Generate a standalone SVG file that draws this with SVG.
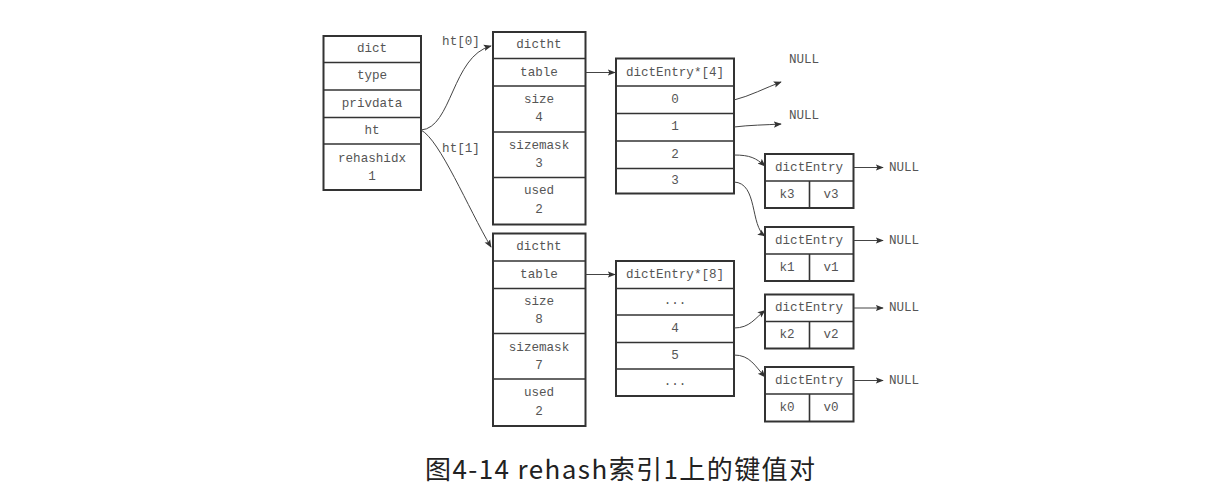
<svg xmlns="http://www.w3.org/2000/svg" width="1226" height="502" viewBox="0 0 1226 502">
<style>
.box{fill:#fff;stroke:#333;stroke-width:2}
.div{stroke:#333;stroke-width:1.6}
.t{font-family:"Liberation Mono",monospace;font-size:12.6px;fill:#555;text-anchor:middle;dominant-baseline:central}
.c{fill:none;stroke:#444;stroke-width:1}
.cap{font-family:"Noto Sans CJK SC",sans-serif;font-size:26px;fill:#222;text-anchor:middle;dominant-baseline:central}
</style>
<defs>
<marker id="ah" viewBox="0 0 10 10" refX="9" refY="5" markerWidth="8" markerHeight="8" markerUnits="userSpaceOnUse" orient="auto">
<path d="M0,1 L10,5 L0,9 L2,5 Z" fill="#333"/>
</marker>
</defs>
<rect width="1226" height="502" fill="#fff"/>

<g id="dict">
<rect class="box" x="323.5" y="36" width="97.5" height="154"/>
<line class="div" x1="323.5" y1="62.5" x2="421" y2="62.5"/>
<line class="div" x1="323.5" y1="90" x2="421" y2="90"/>
<line class="div" x1="323.5" y1="117.5" x2="421" y2="117.5"/>
<line class="div" x1="323.5" y1="144" x2="421" y2="144"/>
<text class="t" x="372" y="49">dict</text>
<text class="t" x="372" y="76">type</text>
<text class="t" x="372" y="103.5">privdata</text>
<text class="t" x="372" y="130.5">ht</text>
<text class="t" x="372" y="158.5">rehashidx</text>
<text class="t" x="372" y="177">1</text>
</g>

<g id="ht0">
<rect class="box" x="493" y="32" width="92.5" height="192.5"/>
<line class="div" x1="493" y1="58.5" x2="585.5" y2="58.5"/>
<line class="div" x1="493" y1="86" x2="585.5" y2="86"/>
<line class="div" x1="493" y1="132" x2="585.5" y2="132"/>
<line class="div" x1="493" y1="177.5" x2="585.5" y2="177.5"/>
<text class="t" x="539" y="45">dictht</text>
<text class="t" x="539" y="72.5">table</text>
<text class="t" x="539" y="100">size</text>
<text class="t" x="539" y="118">4</text>
<text class="t" x="539" y="145.5">sizemask</text>
<text class="t" x="539" y="164">3</text>
<text class="t" x="539" y="191">used</text>
<text class="t" x="539" y="210">2</text>
</g>

<g id="ht1">
<rect class="box" x="493" y="233.5" width="92.5" height="192.5"/>
<line class="div" x1="493" y1="261" x2="585.5" y2="261"/>
<line class="div" x1="493" y1="288.5" x2="585.5" y2="288.5"/>
<line class="div" x1="493" y1="333.5" x2="585.5" y2="333.5"/>
<line class="div" x1="493" y1="379" x2="585.5" y2="379"/>
<text class="t" x="539" y="247">dictht</text>
<text class="t" x="539" y="274.5">table</text>
<text class="t" x="539" y="302">size</text>
<text class="t" x="539" y="320">8</text>
<text class="t" x="539" y="347.5">sizemask</text>
<text class="t" x="539" y="366">7</text>
<text class="t" x="539" y="393">used</text>
<text class="t" x="539" y="412">2</text>
</g>

<g id="table4">
<rect class="box" x="616" y="58.5" width="118" height="135"/>
<line class="div" x1="616" y1="86" x2="734" y2="86"/>
<line class="div" x1="616" y1="113.5" x2="734" y2="113.5"/>
<line class="div" x1="616" y1="141" x2="734" y2="141"/>
<line class="div" x1="616" y1="168.5" x2="734" y2="168.5"/>
<text class="t" x="675" y="72.5">dictEntry*[4]</text>
<text class="t" x="675" y="99.5">0</text>
<text class="t" x="675" y="127">1</text>
<text class="t" x="675" y="154.5">2</text>
<text class="t" x="675" y="181">3</text>
</g>

<g id="table8">
<rect class="box" x="616" y="261" width="118" height="135"/>
<line class="div" x1="616" y1="288.5" x2="734" y2="288.5"/>
<line class="div" x1="616" y1="315" x2="734" y2="315"/>
<line class="div" x1="616" y1="342.5" x2="734" y2="342.5"/>
<line class="div" x1="616" y1="369" x2="734" y2="369"/>
<text class="t" x="675" y="274.5">dictEntry*[8]</text>
<text class="t" x="675" y="301">...</text>
<text class="t" x="675" y="328.5">4</text>
<text class="t" x="675" y="355.5">5</text>
<text class="t" x="675" y="382">...</text>
</g>

<g id="entry-k3">
<rect class="box" x="765" y="154" width="88.5" height="54"/>
<line class="div" x1="765" y1="181" x2="853.5" y2="181"/>
<line class="div" x1="809.5" y1="181" x2="809.5" y2="208"/>
<text class="t" x="809" y="167.5">dictEntry</text>
<text class="t" x="787" y="194.5">k3</text>
<text class="t" x="831" y="194.5">v3</text>
</g>
<g id="entry-k1">
<rect class="box" x="765" y="227" width="88.5" height="54"/>
<line class="div" x1="765" y1="254" x2="853.5" y2="254"/>
<line class="div" x1="809.5" y1="254" x2="809.5" y2="281"/>
<text class="t" x="809" y="240.5">dictEntry</text>
<text class="t" x="787" y="267.5">k1</text>
<text class="t" x="831" y="267.5">v1</text>
</g>
<g id="entry-k2">
<rect class="box" x="765" y="294.5" width="88.5" height="54"/>
<line class="div" x1="765" y1="321.5" x2="853.5" y2="321.5"/>
<line class="div" x1="809.5" y1="321.5" x2="809.5" y2="348.5"/>
<text class="t" x="809" y="308">dictEntry</text>
<text class="t" x="787" y="335">k2</text>
<text class="t" x="831" y="335">v2</text>
</g>
<g id="entry-k0">
<rect class="box" x="765" y="367" width="88.5" height="54.5"/>
<line class="div" x1="765" y1="394" x2="853.5" y2="394"/>
<line class="div" x1="809.5" y1="394" x2="809.5" y2="421.5"/>
<text class="t" x="809" y="380.5">dictEntry</text>
<text class="t" x="787" y="407.5">k0</text>
<text class="t" x="831" y="407.5">v0</text>
</g>

<g id="labels">
<text class="t" x="461" y="42">ht[0]</text>
<text class="t" x="461" y="149">ht[1]</text>
<text class="t" x="804" y="60">NULL</text>
<text class="t" x="804" y="116">NULL</text>
<text class="t" x="904" y="167.5">NULL</text>
<text class="t" x="904" y="240.5">NULL</text>
<text class="t" x="904" y="308">NULL</text>
<text class="t" x="904" y="380.5">NULL</text>
</g>

<g id="connectors">
<path class="c" marker-end="url(#ah)" d="M421,130 C452,128 452,56 491,46"/>
<path class="c" marker-end="url(#ah)" d="M421,130 C440,140 468,208 491,247"/>
<path class="c" marker-end="url(#ah)" d="M585.5,72.5 L615,72.5"/>
<path class="c" marker-end="url(#ah)" d="M585.5,274.5 L615,274.5"/>
<path class="c" marker-end="url(#ah)" d="M734,100 C750,96 765,88 781,82"/>
<path class="c" marker-end="url(#ah)" d="M734,127 C750,125 765,125 781,124"/>
<path class="c" marker-end="url(#ah)" d="M734,155 C750,155 756,158 765,166"/>
<path class="c" marker-end="url(#ah)" d="M734,182 C758,183 750,226 765,236"/>
<path class="c" marker-end="url(#ah)" d="M734,328 C750,328 755,318 765,310.5"/>
<path class="c" marker-end="url(#ah)" d="M734,355 C750,355 755,366 765,377"/>
<path class="c" marker-end="url(#ah)" d="M853.5,167.5 L883,167.5"/>
<path class="c" marker-end="url(#ah)" d="M853.5,240.5 L883,240.5"/>
<path class="c" marker-end="url(#ah)" d="M853.5,308 L883,308"/>
<path class="c" marker-end="url(#ah)" d="M853.5,380.5 L883,380.5"/>
</g>

<text id="caption" class="cap" x="620" y="467" textLength="390" lengthAdjust="spacing">图4-14 rehash索引1上的键值对</text>
</svg>
